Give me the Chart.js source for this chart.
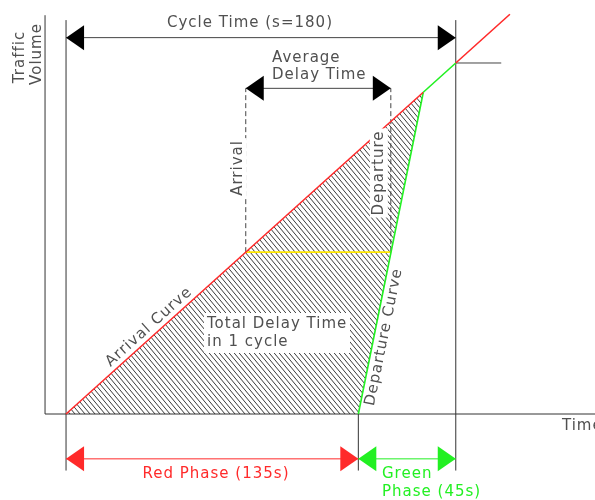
<!DOCTYPE html>
<html>
<head>
<meta charset="utf-8">
<script src="https://cdn.jsdelivr.net/npm/chart.js@4.4.0/dist/chart.umd.min.js"></script>
<style>
  html, body { margin: 0; padding: 0; background: #fff; }
  canvas { display: block; }
</style>
</head>
<body>
<canvas id="chart" width="595" height="500"></canvas>
<script>
// time in seconds, volume in vehicles (arrival about 1 veh/s)
const arrivalTime = [0, 165, 180, 205];
const arrivalVolume = [0, 165, 180, 205];
const departureTime = [135, 165];
const departureVolume = [0, 165];
const phaseTimes = [0, 135, 180];          // red start, green start, cycle end
const avgDelayTime = [83, 150];            // arrival / departure of the average vehicle
const avgDelayVolume = [83, 167];          // queue level, arrow level
const cycleVolume = [180, 193, 202];       // clear level, cycle arrow, top of markers

const RED = '#ff2a2a', GREEN = '#22f022', GREY = '#444', TEXT = '#505050';

function hatch() {
  const w = 5, h = 6;
  const c = document.createElement('canvas');
  c.width = w; c.height = h;
  const g = c.getContext('2d');
  g.strokeStyle = '#3a3a3a';
  g.lineWidth = 1;
  for (let k = -1; k <= 1; k++) {
    g.beginPath();
    g.moveTo(k * w, 0);
    g.lineTo(k * w + w, h);
    g.stroke();
  }
  return g.createPattern(c, 'repeat');
}

const pts = (xs, ys) => xs.map((x, i) => ({x: x, y: ys[i]}));

// the delay triangle: arrival curve up to clearing, back down the departure curve
const delayArea = [
  {x: arrivalTime[0], y: arrivalVolume[0]},
  {x: departureTime[1], y: departureVolume[1]},
  {x: departureTime[0], y: departureVolume[0]}
];

const diagram = {
  id: 'diagram',
  beforeDatasetsDraw(chart) {
    const ctx = chart.ctx, x = chart.scales.x, y = chart.scales.y;
    const px = v => x.getPixelForValue(v), py = v => y.getPixelForValue(v);
    ctx.save();
    ctx.strokeStyle = '#333';
    ctx.lineWidth = 1;
    const line = (a, b, c, d) => { ctx.beginPath(); ctx.moveTo(a, b); ctx.lineTo(c, d); ctx.stroke(); };
    // axes
    line(px(-9.7), py(204.5), px(-9.7), py(0));
    line(px(-9.7), py(0), chart.width, py(0));
    // phase markers
    line(px(phaseTimes[0]), py(cycleVolume[2]), px(phaseTimes[0]), py(-29));
    line(px(phaseTimes[1]), py(0), px(phaseTimes[1]), py(-29));
    line(px(phaseTimes[2]), py(cycleVolume[2]), px(phaseTimes[2]), py(-29));
    ctx.restore();
  },
  afterDatasetsDraw(chart) {
    const ctx = chart.ctx, x = chart.scales.x, y = chart.scales.y;
    const px = v => x.getPixelForValue(v), py = v => y.getPixelForValue(v);
    ctx.save();

    function head(tx, ty, dir, col) {
      ctx.fillStyle = col;
      ctx.beginPath();
      ctx.moveTo(tx, ty);
      ctx.lineTo(tx - dir * 18, ty - 12.5);
      ctx.lineTo(tx - dir * 18, ty + 12.5);
      ctx.closePath();
      ctx.fill();
    }
    function dim(t0, t1, v, lineCol, headCol) {
      const yy = py(v);
      ctx.strokeStyle = lineCol;
      ctx.lineWidth = 1;
      ctx.beginPath();
      ctx.moveTo(px(t0), yy);
      ctx.lineTo(px(t1), yy);
      ctx.stroke();
      head(px(t0), yy, -1, headCol);
      head(px(t1), yy, 1, headCol);
    }
    dim(phaseTimes[0], phaseTimes[2], cycleVolume[1], GREY, '#000');
    dim(avgDelayTime[0], avgDelayTime[1], avgDelayVolume[1], GREY, '#000');
    dim(phaseTimes[0], phaseTimes[1], -23, RED, RED);
    dim(phaseTimes[1], phaseTimes[2], -23, GREEN, GREEN);

    ctx.font = '15px "DejaVu Sans"';
    ctx.letterSpacing = '1px';
    ctx.textBaseline = 'middle';
    function text(s, tx, ty, opts) {
      opts = opts || {};
      ctx.save();
      ctx.translate(tx, ty);
      if (opts.rot) ctx.rotate(opts.rot);
      ctx.textAlign = opts.align || 'center';
      if (opts.bg) {
        const w = ctx.measureText(s).width;
        const x0 = ctx.textAlign === 'left' ? 0 : -w / 2;
        ctx.fillStyle = '#fff';
        ctx.fillRect(x0 - 2, -9, w + 4, 18);
      }
      ctx.fillStyle = opts.color || TEXT;
      ctx.fillText(s, 0, 0);
      ctx.restore();
    }

    const up = -Math.PI / 2;
    text('Traffic', 20, 57, {rot: up});
    text('Volume', 37, 54, {rot: up});
    text('Cycle Time (s=180)', 250, 23);
    text('Average', 272, 58, {align: 'left'});
    text('Delay Time', 272, 75, {align: 'left'});
    text('Arrival', px(avgDelayTime[0]) - 8, 168, {rot: up, bg: true});
    text('Departure', px(avgDelayTime[1]) - 12, 173, {rot: up, bg: true});
    text('Arrival Curve', 149, 327, {rot: -Math.atan(0.9)});
    text('Departure Curve', 384, 337, {rot: -Math.atan(4.89)});

    ctx.fillStyle = '#fff';
    ctx.fillRect(204, 313, 146, 40);
    text('Total Delay Time', 207, 324, {align: 'left'});
    text('in 1 cycle', 207, 342, {align: 'left'});

    text('Time', 562, py(0) + 12, {align: 'left'});
    text('Red Phase (135s)', 216, 474, {color: RED});
    text('Green', 382, 474, {align: 'left', color: GREEN});
    text('Phase (45s)', 382, 492, {align: 'left', color: GREEN});
    ctx.restore();
  }
};

new Chart(document.getElementById('chart'), {
  type: 'line',
  data: {
    datasets: [
      {
        label: 'arrival',
        data: pts(arrivalTime, arrivalVolume),
        borderWidth: 1.6,
        borderColor: RED,
        segment: {
          borderColor: c => (c.p0.parsed.x >= departureTime[1] && c.p1.parsed.x <= phaseTimes[2]) ? GREEN : RED
        },
        pointRadius: 0,
        order: 1
      },
      {
        label: 'departure',
        data: pts(departureTime, departureVolume),
        borderWidth: 1.6,
        borderColor: GREEN,
        pointRadius: 0,
        order: 1
      },
      {
        label: 'cycle end level',
        data: [{x: phaseTimes[2], y: cycleVolume[0]}, {x: 201, y: cycleVolume[0]}],
        borderWidth: 1,
        borderColor: GREY,
        pointRadius: 0,
        order: 2
      },
      {
        label: 'average delay',
        data: [{x: avgDelayTime[0], y: avgDelayVolume[0]}, {x: avgDelayTime[1], y: avgDelayVolume[0]}],
        borderWidth: 1.6,
        borderColor: '#ffe800',
        pointRadius: 0,
        order: 2
      },
      {
        label: 'arrival marker',
        data: [{x: avgDelayTime[0], y: avgDelayVolume[0]}, {x: avgDelayTime[0], y: avgDelayVolume[1]}],
        borderWidth: 1,
        borderColor: GREY,
        borderDash: [5, 3],
        pointRadius: 0,
        order: 3
      },
      {
        label: 'departure marker',
        data: [{x: avgDelayTime[1], y: avgDelayVolume[0]}, {x: avgDelayTime[1], y: avgDelayVolume[1]}],
        borderWidth: 1,
        borderColor: GREY,
        borderDash: [5, 3],
        pointRadius: 0,
        order: 3
      },
      {
        label: 'total delay',
        data: delayArea,
        borderWidth: 0,
        borderColor: 'rgba(0,0,0,0)',
        backgroundColor: hatch(),
        fill: 'shape',
        pointRadius: 0,
        order: 9
      }
    ]
  },
  options: {
    responsive: false,
    animation: false,
    layout: { padding: 0 },
    scales: {
      x: { type: 'linear', min: -30.5, max: 244.3, display: false },
      y: { type: 'linear', min: -44.1, max: 212.3, display: false }
    },
    plugins: {
      legend: { display: false },
      tooltip: { enabled: false },
      title: { display: false }
    }
  },
  plugins: [diagram]
});
</script>
</body>
</html>
